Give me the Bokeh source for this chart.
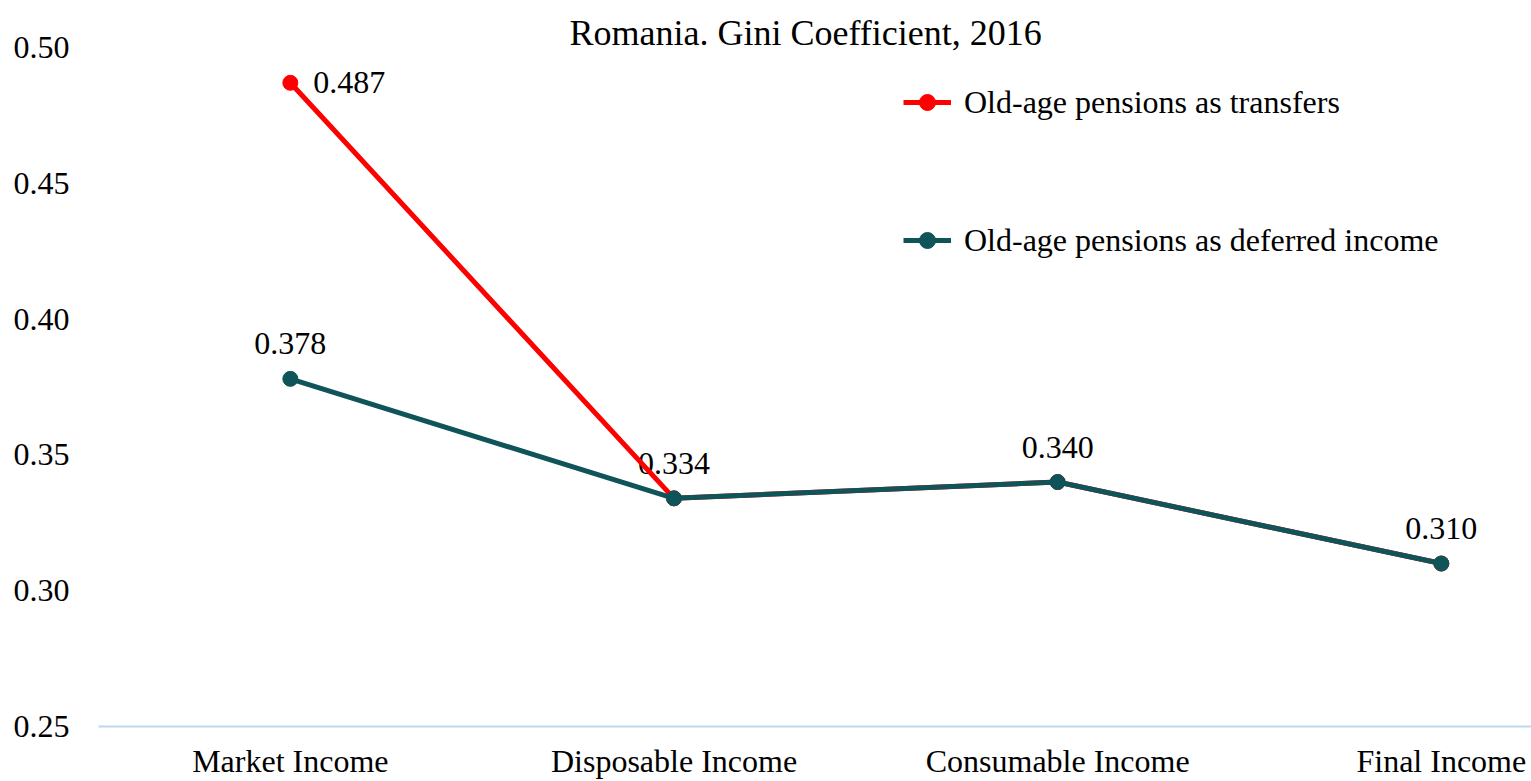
from bokeh.plotting import figure
from bokeh.models import (ColumnDataSource, FixedTicker, NumeralTickFormatter,
                          LabelSet, Label, Legend, LegendItem, Range1d)
from bokeh.embed import file_html
from bokeh.resources import INLINE

# ---- data ----
categories = ["Market Income", "Disposable Income", "Consumable Income", "Final Income"]
transfers = [0.487, 0.334, 0.340, 0.310]
deferred = [0.378, 0.334, 0.340, 0.310]
y_ticks = [0.25, 0.30, 0.35, 0.40, 0.45, 0.50]
title_text = "Romania. Gini Coefficient, 2016"
series_names = ["Old-age pensions as transfers", "Old-age pensions as deferred income"]

RED = "#FF0000"
TEAL = "#0E5458"
FONT = "Liberation Serif"

X_START, X_END = -0.5, 3.235
Y_START, Y_END = 0.25, 0.5173
TITLE_X, TITLE_Y = 1.343, 0.5055

xs = list(range(len(categories)))
src_t = ColumnDataSource(dict(x=xs, y=transfers, lab=[f"{v:.3f}" for v in transfers]))
src_d = ColumnDataSource(dict(x=xs, y=deferred, lab=[f"{v:.3f}" for v in deferred]))
src_t_first = ColumnDataSource(dict(x=xs[:1], y=transfers[:1], lab=[f"{transfers[0]:.3f}"]))

p = figure(width=1531, height=781, output_backend="svg", toolbar_location=None,
           x_range=Range1d(X_START, X_END), y_range=Range1d(Y_START, Y_END),
           min_border_left=98, min_border_right=0, min_border_bottom=40, min_border_top=0)

p.outline_line_color = None
p.xgrid.visible = False
p.ygrid.visible = False
p.background_fill_color = "white"
p.border_fill_color = "white"

# y axis
p.yaxis.ticker = FixedTicker(ticks=y_ticks)
p.yaxis.formatter = NumeralTickFormatter(format="0.00")
p.yaxis.axis_line_color = None
p.yaxis.major_tick_line_color = None
p.yaxis.minor_tick_line_color = None
p.yaxis.major_label_text_font = FONT
p.yaxis.major_label_text_font_size = "32px"
p.yaxis.major_label_text_color = "#000000"
p.yaxis.major_label_standoff = 23

# x axis
p.xaxis.ticker = FixedTicker(ticks=xs)
p.xaxis.major_label_overrides = {i: c for i, c in enumerate(categories)}
p.xaxis.axis_line_color = "#BDD7EE"
p.xaxis.axis_line_width = 2
p.xaxis.major_tick_line_color = None
p.xaxis.minor_tick_line_color = None
p.xaxis.major_label_text_font = FONT
p.xaxis.major_label_text_font_size = "32px"
p.xaxis.major_label_text_color = "#000000"
p.xaxis.major_label_standoff = 10

# title, drawn inside the plot area like the original
title = Label(x=TITLE_X, y=TITLE_Y, text=title_text, text_align="center",
              text_baseline="middle", text_font=FONT, text_font_size="36px",
              text_color="#000000")
p.add_layout(title)

# data labels (under the lines)
lab_d = LabelSet(x="x", y="y", text="lab", source=src_d, text_align="center",
                 text_baseline="middle", y_offset=35, text_font=FONT,
                 text_font_size="32px", text_color="#000000", level="underlay")
lab_t = LabelSet(x="x", y="y", text="lab", source=src_t_first, text_align="left",
                 text_baseline="middle", x_offset=23, text_font=FONT,
                 text_font_size="32px", text_color="#000000", level="underlay")
p.add_layout(lab_d)
p.add_layout(lab_t)

# series
lt = p.line("x", "y", source=src_t, line_color=RED, line_width=5)
st = p.scatter("x", "y", source=src_t, size=15, fill_color=RED, line_color=RED)
ld = p.line("x", "y", source=src_d, line_color=TEAL, line_width=5)
sd = p.scatter("x", "y", source=src_d, size=15, fill_color=TEAL, line_color=TEAL)

legend = Legend(items=[LegendItem(label=series_names[0], renderers=[lt, st]),
                       LegendItem(label=series_names[1], renderers=[ld, sd])],
                location=(805, 466), orientation="vertical",
                border_line_color=None, background_fill_alpha=0,
                padding=0, margin=0, spacing=98,
                glyph_width=48, glyph_height=40, label_height=40,
                label_standoff=13, label_text_font=FONT,
                label_text_font_size="32px", label_text_color="#000000")
p.add_layout(legend, "center")

open("out.html", "w").write(file_html(p, INLINE))
